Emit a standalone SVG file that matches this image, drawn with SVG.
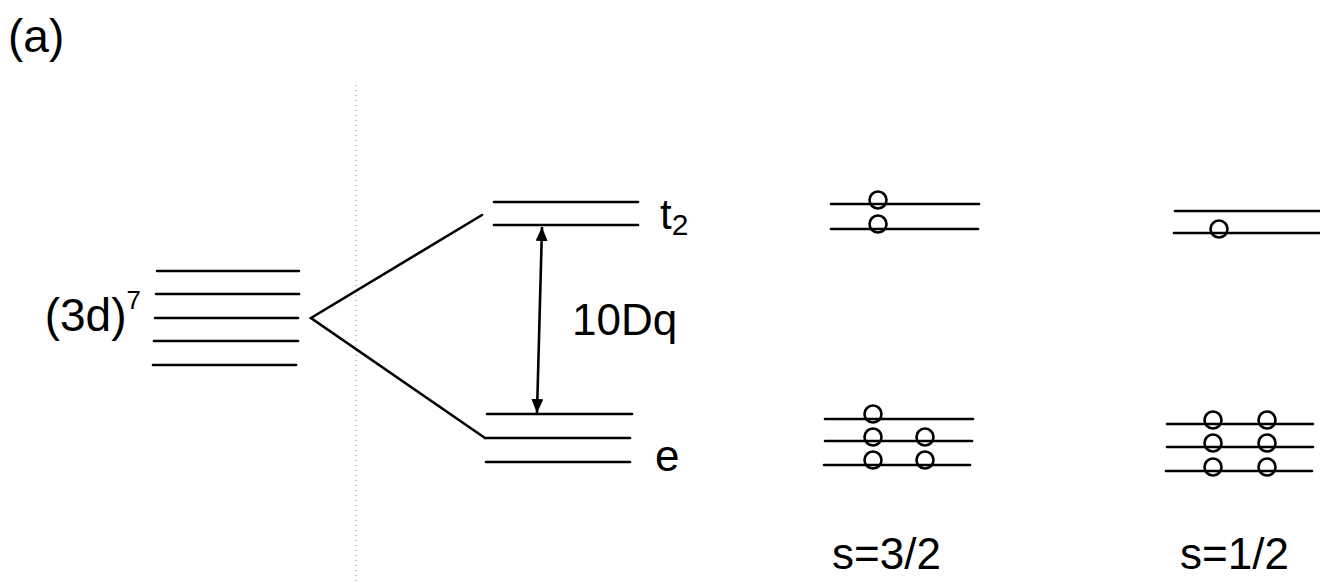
<svg xmlns="http://www.w3.org/2000/svg" width="1320" height="583" viewBox="0 0 1320 583">
<style>
.lv{stroke:#000;stroke-width:2.6;fill:none;stroke-linecap:round}
.el{stroke:#000;stroke-width:2.6;fill:none}
.t{font-family:"Liberation Sans",Arial,sans-serif;fill:#000}
</style>
<defs>
<marker id="ah" viewBox="0 0 14 12" refX="14" refY="6" markerWidth="14" markerHeight="12" markerUnits="userSpaceOnUse" orient="auto-start-reverse">
<path d="M0,0 L14,6 L0,12 z" fill="#000"/>
</marker>
</defs>
<rect width="1320" height="583" fill="#fff"/>
<text class="t" x="8" y="52" font-size="46">(a)</text>
<line x1="356" y1="85" x2="356" y2="583" stroke="#999" stroke-width="1.2" stroke-dasharray="1 4"/>
<g id="free-ion">
<line class="lv" x1="157" y1="271" x2="299" y2="271"/>
<line class="lv" x1="156" y1="294" x2="299" y2="294"/>
<line class="lv" x1="155" y1="318" x2="298" y2="318"/>
<line class="lv" x1="154" y1="341" x2="298" y2="341"/>
<line class="lv" x1="153" y1="365" x2="296" y2="365"/>
<text class="t" x="141" y="331" font-size="46" text-anchor="end">(3d)<tspan font-size="26" dy="-22">7</tspan></text>
</g>
<g id="connectors">
<polyline class="lv" points="482,215 311,318 485,438"/>
<line x1="542" y1="227" x2="537" y2="413" stroke="#000" stroke-width="2.6" marker-start="url(#ah)" marker-end="url(#ah)"/>
</g>
<g id="t2">
<line class="lv" x1="494" y1="202" x2="638" y2="202"/>
<line class="lv" x1="494" y1="225" x2="638" y2="225"/>
<text class="t" x="660" y="229" font-size="42">t<tspan font-size="30" dy="6">2</tspan></text>
</g>
<g id="e">
<line class="lv" x1="487" y1="414" x2="632" y2="414"/>
<line class="lv" x1="485" y1="438" x2="630" y2="438"/>
<line class="lv" x1="486" y1="462" x2="630" y2="462"/>
<text class="t" x="655" y="471" font-size="44">e</text>
</g>
<text class="t" x="572" y="335" font-size="44">10Dq</text>
<g id="s32">
<line class="lv" x1="831" y1="204" x2="979" y2="204"/>
<line class="lv" x1="831" y1="229" x2="978" y2="229"/>
<circle class="el" cx="878" cy="200" r="8.5"/>
<circle class="el" cx="878" cy="224" r="8.5"/>
<line class="lv" x1="825" y1="419" x2="973" y2="419"/>
<line class="lv" x1="825" y1="441" x2="972" y2="441"/>
<line class="lv" x1="824" y1="465" x2="970" y2="465"/>
<circle class="el" cx="873" cy="414" r="8.5"/>
<circle class="el" cx="873" cy="437" r="8.5"/>
<circle class="el" cx="925" cy="437" r="8.5"/>
<circle class="el" cx="873" cy="460" r="8.5"/>
<circle class="el" cx="925" cy="460" r="8.5"/>
<text class="t" x="832" y="569" font-size="44">s=3/2</text>
</g>
<g id="s12">
<line class="lv" x1="1175" y1="211" x2="1322" y2="211"/>
<line class="lv" x1="1174" y1="233" x2="1322" y2="233"/>
<circle class="el" cx="1219" cy="229" r="8.5"/>
<line class="lv" x1="1167" y1="424" x2="1313" y2="424"/>
<line class="lv" x1="1167" y1="447" x2="1313" y2="447"/>
<line class="lv" x1="1166" y1="471" x2="1312" y2="471"/>
<circle class="el" cx="1213" cy="420" r="8.5"/>
<circle class="el" cx="1267" cy="420" r="8.5"/>
<circle class="el" cx="1213" cy="443" r="8.5"/>
<circle class="el" cx="1267" cy="443" r="8.5"/>
<circle class="el" cx="1213" cy="467" r="8.5"/>
<circle class="el" cx="1267" cy="467" r="8.5"/>
<text class="t" x="1180" y="569" font-size="44">s=1/2</text>
</g>
</svg>
